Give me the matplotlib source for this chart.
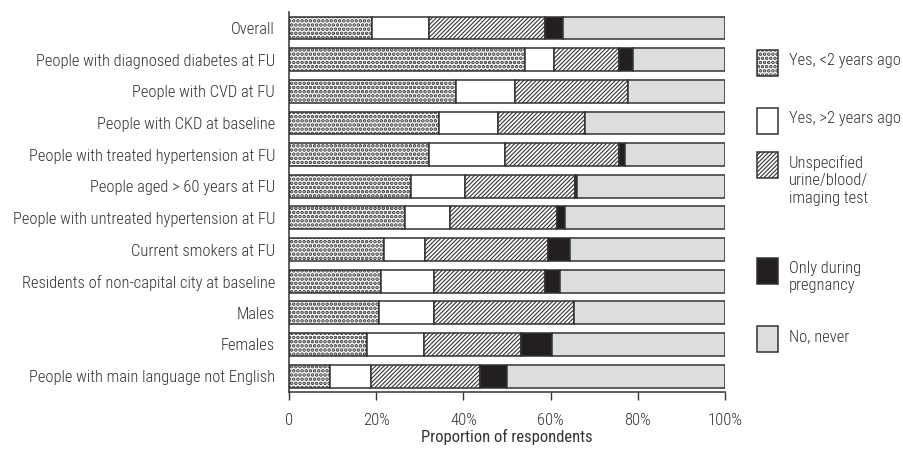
import matplotlib.pyplot as plt
from matplotlib.patches import Rectangle

plt.rcParams["font.family"] = ["Roboto Condensed", "Liberation Sans Narrow", "DejaVu Sans"]
plt.rcParams["font.weight"] = "light"
plt.rcParams["hatch.linewidth"] = 0.8
plt.rcParams["hatch.color"] = "#231f20"

groups = [
    "Overall",
    "People with diagnosed diabetes at FU",
    "People with CVD at FU",
    "People with CKD at baseline",
    "People with treated hypertension at FU",
    "People aged > 60 years at FU",
    "People with untreated hypertension at FU",
    "Current smokers at FU",
    "Residents of non-capital city at baseline",
    "Males",
    "Females",
    "People with main language not English",
]

# segment widths (percent)
yes_recent = [19.1, 54.1, 38.4, 34.4, 32.0, 27.9, 26.5, 21.9, 21.0, 20.6, 17.8, 9.3]
yes_older = [12.9, 6.6, 13.5, 13.6, 17.5, 12.4, 10.4, 9.4, 12.2, 12.6, 13.1, 9.4]
unspecified = [26.6, 14.9, 25.9, 19.8, 26.2, 25.3, 24.5, 28.2, 25.4, 32.1, 22.2, 25.1]
pregnancy = [4.2, 3.4, 0.0, 0.0, 1.3, 0.4, 1.9, 4.9, 3.5, 0.0, 7.3, 6.3]

series_labels = [
    "Yes, <2 years ago",
    "Yes, >2 years ago",
    "Unspecified\nurine/blood/\nimaging test",
    "Only during\npregnancy",
    "No, never",
]
fills = ["white", "white", "white", "#231f20", "#dcdddf"]
hatches = ["....", None, "////////", None, None]
hatch_lw = [1.8, 0.8, 0.8, 0.8, 0.8]
edge = "#333333"
text_col = "#333333"

never = [100 - a - b - c - d for a, b, c, d in zip(yes_recent, yes_older, unspecified, pregnancy)]
series = [yes_recent, yes_older, unspecified, pregnancy, never]

fig = plt.figure(figsize=(9.04, 4.49), dpi=100)
ax = fig.add_axes([0.3197, 0.127, 0.4823, 0.846])

ypos = list(range(len(groups)))
left = [0.0] * len(groups)
for vals, fc, h, hlw in zip(series, fills, hatches, hatch_lw):
    bars = ax.barh(ypos, vals, left=left, height=0.72, color=fc, edgecolor=edge,
                   linewidth=1.1, hatch=h)
    for b in bars:
        if hasattr(b, "set_hatch_linewidth"):
            b.set_hatch_linewidth(hlw)
    left = [l + v for l, v in zip(left, vals)]

fs = 11.9
ax.set_xlim(0, 100)
ax.set_ylim(len(groups) - 0.5, -0.5)
ax.set_yticks(ypos)
ax.set_yticklabels(groups, fontsize=fs, color=text_col)
ax.set_xticks([0, 20, 40, 60, 80, 100])
ax.set_xticklabels(["0", "20%", "40%", "60%", "80%", "100%"], fontsize=fs, color=text_col)
ax.tick_params(axis="y", length=0, pad=10)
ax.tick_params(axis="x", length=6, width=1, color=edge, pad=9)
ax.set_xlabel("Proportion of respondents", fontsize=fs, color=text_col, labelpad=1)
for s in ["top", "right"]:
    ax.spines[s].set_visible(False)
for s in ["left", "bottom"]:
    ax.spines[s].set_color(edge)
    ax.spines[s].set_linewidth(1.1)

# legend drawn by hand: square to the left, text top-aligned next to it
W, H = 904, 449
legend_tops = [50, 108, 152, 258, 326]
for lab, fc, h, hlw, top in zip(series_labels, fills, hatches, hatch_lw, legend_tops):
    sq = Rectangle((757 / W, 1 - (top + 26) / H), 21 / W, 26 / H,
                   transform=fig.transFigure, facecolor=fc,
                   edgecolor=edge, linewidth=1.1, hatch=h)
    if hasattr(sq, "set_hatch_linewidth"):
        sq.set_hatch_linewidth(hlw)
    fig.patches.append(sq)
    fig.text(789 / W, 1 - (top + 3) / H, lab, fontsize=fs, color=text_col,
             va="top", ha="left", linespacing=1.2)

fig.savefig("out.png", dpi=100)
